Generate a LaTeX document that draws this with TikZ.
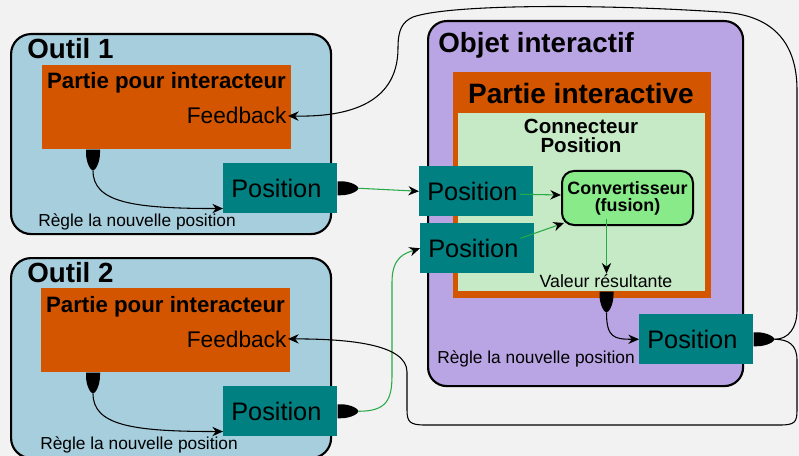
\documentclass[tikz,border=0pt]{standalone}
\usepackage{fontspec}
\setmainfont{Liberation Sans}
\usetikzlibrary{positioning,calc,arrows.meta}
\definecolor{fond}{RGB}{242,242,242}
\definecolor{outilbleu}{RGB}{166,206,220}
\definecolor{partie}{RGB}{212,85,0}
\definecolor{sarcelle}{RGB}{0,128,128}
\definecolor{objetviolet}{RGB}{185,164,228}
\definecolor{connvert}{RGB}{198,233,198}
\definecolor{convvert}{RGB}{136,234,136}
\definecolor{fil}{RGB}{40,170,70}

\begin{document}
\begin{tikzpicture}[x=0.75pt,y=-0.75pt,
        outil/.style={rectangle,draw,line width=1.6pt,rounded corners=15pt,fill=outilbleu,minimum width=240pt,minimum height=150pt,anchor=north west,inner sep=0pt},
        partiebox/.style={rectangle,fill=partie,minimum width=186.75pt,minimum height=63pt,anchor=north west,inner sep=0pt},
        posbox/.style={rectangle,fill=sarcelle,minimum width=85.5pt,minimum height=37.5pt,anchor=north west,inner xsep=6pt,inner ysep=0pt,text width=73.5pt,align=left,font=\fontsize{19}{19}\selectfont},
        titre/.style={anchor=base west,inner sep=0pt,font=\bfseries\fontsize{20.8}{20.8}\selectfont},
        interac/.style={anchor=base,inner sep=0pt,font=\bfseries\fontsize{16.7}{16.7}\selectfont},
        fb/.style={anchor=base east,inner sep=1pt,font=\fontsize{17}{17}\selectfont},
        regle/.style={anchor=base west,inner sep=0pt,font=\fontsize{13}{13}\selectfont},
        lien/.style={line width=0.8pt,-{Stealth[length=8pt,width=7pt]}},
        vert/.style={draw=fil,line width=0.8pt,-{Stealth[length=8pt,width=7pt,fill=black,color=black]}},
        port/.pic={\fill (0,-7) -- (3,-7) .. controls (14,-7) and (21,-2) .. (21,0) .. controls (21,2) and (14,7) .. (3,7) -- (0,7) -- cycle;
            \coordinate (-tip) at (21,0);}]
    \fill[fond] (0,0) rectangle (799,456);
    \useasboundingbox (0,0) rectangle (799,456);

    % Outil 1
    \node[outil] (outil1) at (10,33) {};
    \node[titre] (t1) at (27,59) {Outil 1};
    \node[partiebox] (part1) at (42,65) {};
    \node[interac] (pi1) at (166.5,89) {Partie pour interacteur};
    \node[fb] (fb1) at (288,124) {Feedback};
    \node[posbox] (pos1) at (223,163) {Position};
    \node[regle] (r1) at (38,226) {Règle la nouvelle position};

    % Outil 2
    \node[outil] (outil2) at (10,257) {};
    \node[titre] (t2) at (27,282) {Outil 2};
    \node[partiebox] (part2) at (41,288) {};
    \node[interac] (pi2) at (165.5,312) {Partie pour interacteur};
    \node[fb] (fb2) at (288,347) {Feedback};
    \node[posbox] (pos2) at (223,386) {Position};
    \node[regle] (r2) at (40,449) {Règle la nouvelle position};

    % Objet interactif
    \node[rectangle,draw,line width=1.6pt,rounded corners=14pt,fill=objetviolet,minimum width=236.25pt,minimum height=273.75pt,anchor=north west,inner sep=0pt] (objet) at (427,20) {};
    \node[titre] (t3) at (438,53) {Objet interactif};
    \node[rectangle,fill=partie,minimum width=193.5pt,minimum height=169.5pt,anchor=north west,inner sep=0pt] (pint) at (453,72) {};
    \node[anchor=base,inner sep=0pt,font=\bfseries\fontsize{21}{21}\selectfont] (tpint) at (581,104) {Partie interactive};
    \node[rectangle,fill=connvert,minimum width=185.25pt,minimum height=133.5pt,anchor=north west,inner sep=0pt] (conn) at (458,113) {};
    \node[align=center,inner sep=0pt,font=\bfseries\fontsize{15.4}{14.3}\selectfont] (tconn) at (581,136) {Connecteur\\Position};
    \node[posbox] (pos3) at (419,166) {Position};
    \node[posbox] (pos4) at (420,223) {Position};
    \node[rectangle,draw,line width=1.5pt,rounded corners=9pt,fill=convvert,minimum width=98.25pt,minimum height=40.5pt,anchor=north west,inner sep=0pt,align=center,font=\bfseries\fontsize{13.4}{12.6}\selectfont] (conv) at (561,170) {Convertisseur\\(fusion)};
    \node[anchor=base,inner sep=0pt,font=\fontsize{13.3}{13.3}\selectfont] (val) at (606,287) {Valeur résultante};
    \node[posbox] (pos5) at (639,314) {Position};
    \node[regle] (r3) at (437,363) {Règle la nouvelle position};

    % ports
    \pic[rotate=-90] (pa1) at ($(part1.south west)+(51,0)$) {port};
    \pic (pp1) at (pos1.east) {port};
    \pic[rotate=-90] (pa2) at ($(part2.south west)+(52,0)$) {port};
    \pic (pp2) at (pos2.east) {port};
    \coordinate (cs) at ($(conv.south)+(-21,-7)$);
    \pic[rotate=-90] (pa3) at (cs |- conn.south) {port};
    \pic (pp5) at (pos5.east) {port};

    % liens
    \draw[lien] (pa1-tip) .. controls +(0,32) and +(-90,0) .. ($(pos1.south west)+(0,-5)$);
    \draw[lien] (pa2-tip) .. controls +(0,32) and +(-90,0) .. ($(pos2.south west)+(0,-5)$);
    \draw[vert] (pp1-tip) -- (pos3.west);
    \draw[vert] (pp2-tip) .. controls +(28,0) and +(0,25) .. (392,375) -- (392,282) .. controls +(0,-25) and +(-15,5) .. (pos4.west);
    \draw[vert] ($(pos3.east)+(-14,3)$) -- ($(conv.west)+(0,-3)$);
    \draw[vert] ($(pos4.east)+(-14,-10)$) -- ($(conv.south west)+(3,-3)$);
    \draw[vert] (cs) -- (cs |- val.north);
    \draw[lien] (pa3-tip) .. controls +(0,25) and +(-25,0) .. (pos5.west);

    % retours
    \draw[lien] (pp5-tip) .. controls +(14,0) and +(0,18) .. (797,310) -- (797,90) .. controls (797,40) and (770,14) .. (720,12) .. controls (600,4) and (450,4) .. (413,17) .. controls (402,22) and (398,30) .. (398,48) .. controls (398,108) and (340,117) .. (fb1.east);
    \draw[lien] (pp5-tip) .. controls +(14,0) and +(0,-15) .. (797,360) -- (797,410) .. controls +(0,12) and +(15,0) .. (780,425) -- (425,425) .. controls +(-15,0) and +(0,12) .. (407,410) -- (407,372) .. controls +(0,-28) and +(60,0) .. (fb2.east);
\end{tikzpicture}
\end{document}
